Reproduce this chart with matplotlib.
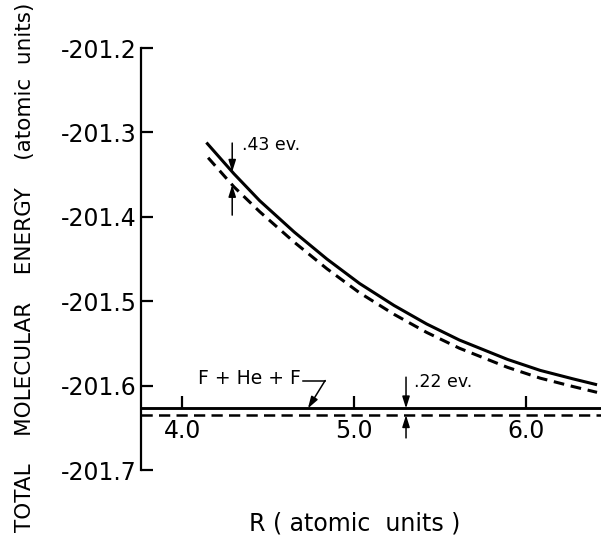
import numpy as np
import matplotlib
matplotlib.use("Agg")
import matplotlib.pyplot as plt

plt.rcParams['font.family'] = ['DejaVu Sans']
plt.rcParams['axes.unicode_minus'] = False

# ---- data ----
R_solid = [4.14, 4.30, 4.45, 4.65, 4.84, 5.03, 5.23, 5.42, 5.61, 5.89, 6.08, 6.27, 6.41]
E_solid = [-201.312, -201.349, -201.381, -201.418, -201.450, -201.479, -201.505,
           -201.527, -201.546, -201.569, -201.582, -201.592, -201.599]
R_dashed = [4.15, 4.30, 4.45, 4.65, 4.84, 5.03, 5.23, 5.42, 5.61, 5.89, 6.08, 6.27, 6.41]
E_dashed = [-201.330, -201.3645, -201.394, -201.430, -201.4615, -201.490, -201.5155,
            -201.537, -201.5557, -201.5784, -201.5912, -201.6011, -201.608]
E_sep_solid = -201.627
E_sep_dashed = -201.635
sep_label = "F + He + F"

yticks = [-201.2, -201.3, -201.4, -201.5, -201.6, -201.7]
ytick_labels = ["-201.2", "-201.3", "-201.4", "-201.5", "-201.6", "-201.7"]
xticks = [4.0, 5.0, 6.0]
xtick_labels = ["4.0", "5.0", "6.0"]

gap_R = [4.29, 5.30]
gap_labels = [".43 ev.", ".22 ev."]

ylabel = "TOTAL    MOLECULAR    ENERGY    (atomic  units)"
xlabel = "R ( atomic  units )"

# ---- figure ----
fig = plt.figure(figsize=(6.01, 5.37), dpi=100)
ax = fig.add_axes([141 / 601, 67 / 537, 460 / 601, 422 / 537])
ax.set_xlim(3.76, 6.433)
ax.set_ylim(-201.7, -201.2)

ax.plot(R_solid, E_solid, color="black", lw=2.2, solid_capstyle="butt",
        solid_joinstyle="round")
ax.plot(R_dashed, E_dashed, color="black", lw=2.2, dashes=(3.5, 2.2))
ax.axhline(E_sep_solid, color="black", lw=1.8)
ax.axhline(E_sep_dashed, color="black", lw=1.8, dashes=(4.5, 2.5))

for s in ("top", "right"):
    ax.spines[s].set_visible(False)
ax.spines["left"].set_linewidth(1.6)
ax.spines["bottom"].set_position(("data", E_sep_solid))
ax.spines["bottom"].set_linewidth(1.8)

ax.set_yticks(yticks)
ax.set_yticklabels(ytick_labels)
ax.set_xticks(xticks)
ax.set_xticklabels(xtick_labels)
ax.tick_params(axis="y", direction="in", length=8.5, width=1.6, pad=3, labelsize=17)
ax.tick_params(axis="x", direction="in", length=9, width=1.6, pad=8, labelsize=17)

# gap annotations
arrow_kw = dict(arrowstyle="-|>,head_length=0.7,head_width=0.22", color="black",
                lw=1.1, shrinkA=0, shrinkB=0, mutation_scale=10)

r0 = gap_R[0]
es = np.interp(r0, R_solid, E_solid)
ed = np.interp(r0, R_dashed, E_dashed)
ax.annotate("", xy=(r0, es), xytext=(r0, -201.3126), arrowprops=arrow_kw)
ax.annotate("", xy=(r0, ed), xytext=(r0, -201.398), arrowprops=arrow_kw)
ax.text(4.345, -201.315, gap_labels[0], fontsize=12.5, ha="left", va="center")

r1 = gap_R[1]
ax.annotate("", xy=(r1, E_sep_solid), xytext=(r1, -201.590), arrowprops=arrow_kw)
ax.annotate("", xy=(r1, E_sep_dashed), xytext=(r1, -201.662), arrowprops=arrow_kw)
ax.text(5.345, -201.596, gap_labels[1], fontsize=12.5, ha="left", va="center")

# F + He + F label with leader
ax.text(4.69, -201.592, sep_label, fontsize=13.5, ha="right", va="center")
ax.plot([4.70, 4.83], [-201.594, -201.594], color="black", lw=1.1)
ax.annotate("", xy=(4.73, E_sep_solid), xytext=(4.83, -201.594), arrowprops=arrow_kw)

fig.text(25 / 601, 1 - 267 / 537, ylabel, rotation=90, ha="center", va="center", fontsize=15.5)
fig.text(355 / 601, 1 - 524 / 537, xlabel, ha="center", va="center", fontsize=17)

fig.savefig("out.png", dpi=100)
